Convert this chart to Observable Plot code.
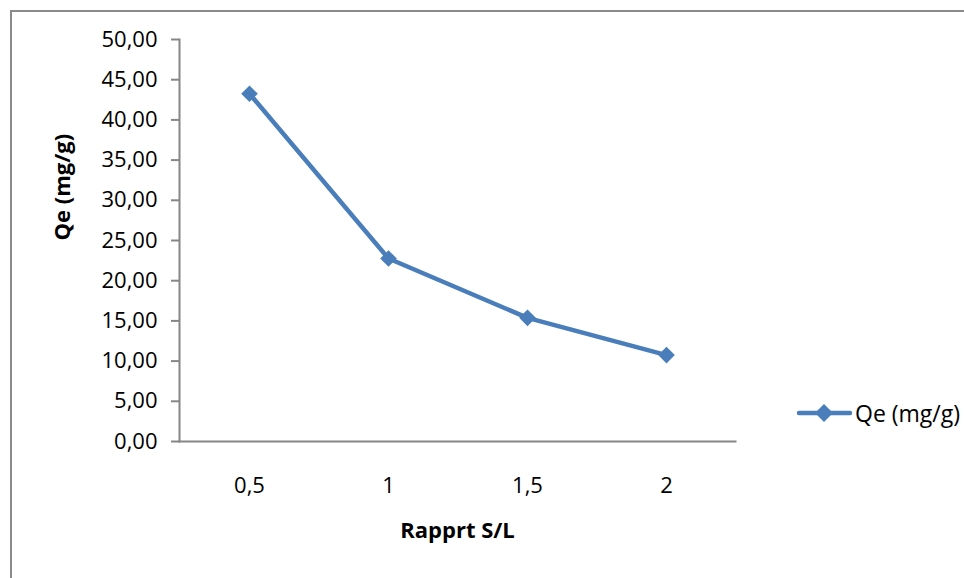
<!DOCTYPE html>
<html>
<head>
<meta charset="utf-8">
<script src="https://cdn.jsdelivr.net/npm/d3@7"></script>
<script src="https://cdn.jsdelivr.net/npm/@observablehq/plot@0.6"></script>
<style>
  html, body { margin: 0; padding: 0; background: #fff; }
  body { width: 964px; height: 578px; overflow: hidden; position: relative; font-family: "Open Sans", sans-serif; }
  #frame { position: absolute; left: 10px; top: 10px; width: 1000px; height: 700px; border-left: 2px solid #8a8a8a; border-top: 2px solid #8a8a8a; }
  #chart { position: absolute; left: 0; top: 0; }
  #legend { position: absolute; left: 796px; top: 398px; display: flex; align-items: center; font-size: 23px; line-height: 30px; color: #000; white-space: nowrap; }
  #legend svg { margin-right: 3px; }
</style>
</head>
<body>
<div id="frame"></div>
<div id="chart"></div>
<div id="legend"></div>
<script>
// Solid/liquid ratio categories and adsorbed quantity Qe (mg/g)
const ratios = ["0,5", "1", "1,5", "2"];
const qe = [43.25, 22.76, 15.38, 10.75];
const yTicks = [0, 5, 10, 15, 20, 25, 30, 35, 40, 45, 50];
const seriesName = "Qe (mg/g)";
const xTitle = "Rapprt S/L";
const yTitle = "Qe (mg/g)";

const data = ratios.map((r, i) => ({ ratio: r, qe: qe[i] }));
const blue = "#4a7ebb";
const axisGray = "#868686";
const comma = d => d.toFixed(2).replace(".", ",");

const chart = Plot.plot({
  width: 964,
  height: 578,
  marginLeft: 179,
  marginRight: 229,
  marginTop: 39,
  marginBottom: 137,
  style: { fontFamily: "Open Sans, sans-serif", fontSize: "22px", color: "#000", background: "transparent" },
  x: { type: "point", domain: ratios, padding: 0.5 },
  y: { domain: [0, 50] },
  marks: [
    Plot.frame({ anchor: "left", stroke: axisGray, strokeWidth: 2 }),
    Plot.frame({ anchor: "bottom", stroke: axisGray, strokeWidth: 2 }),
    Plot.axisY({ ticks: yTicks, tickFormat: comma, tickSize: 8, tickPadding: 14, stroke: axisGray, strokeWidth: 2, fontSize: 22, label: null }),
    Plot.axisX({ tickSize: 0, tickPadding: 36, fontSize: 22, label: null }),
    Plot.text([yTitle], { frameAnchor: "left", rotate: -90, dx: -117, fontWeight: "bold", fontSize: 22 }),
    Plot.text([xTitle], { frameAnchor: "bottom", dy: 96, fontWeight: "bold", fontSize: 22 }),
    Plot.line(data, { x: "ratio", y: "qe", stroke: blue, strokeWidth: 4.5 }),
    Plot.dot(data, { x: "ratio", y: "qe", symbol: "diamond2", r: 7.5, fill: blue, stroke: "none" })
  ]
});
document.getElementById("chart").append(chart);

// Series key on the right
const legend = document.getElementById("legend");
legend.innerHTML =
  `<svg width="56" height="30"><line x1="3" y1="15" x2="54" y2="15" stroke="${blue}" stroke-width="4.5" stroke-linecap="round"/>` +
  `<path d="M28,6 L37,15 L28,24 L19,15 Z" fill="${blue}"/></svg><span>${seriesName}</span>`;
</script>
</body>
</html>
